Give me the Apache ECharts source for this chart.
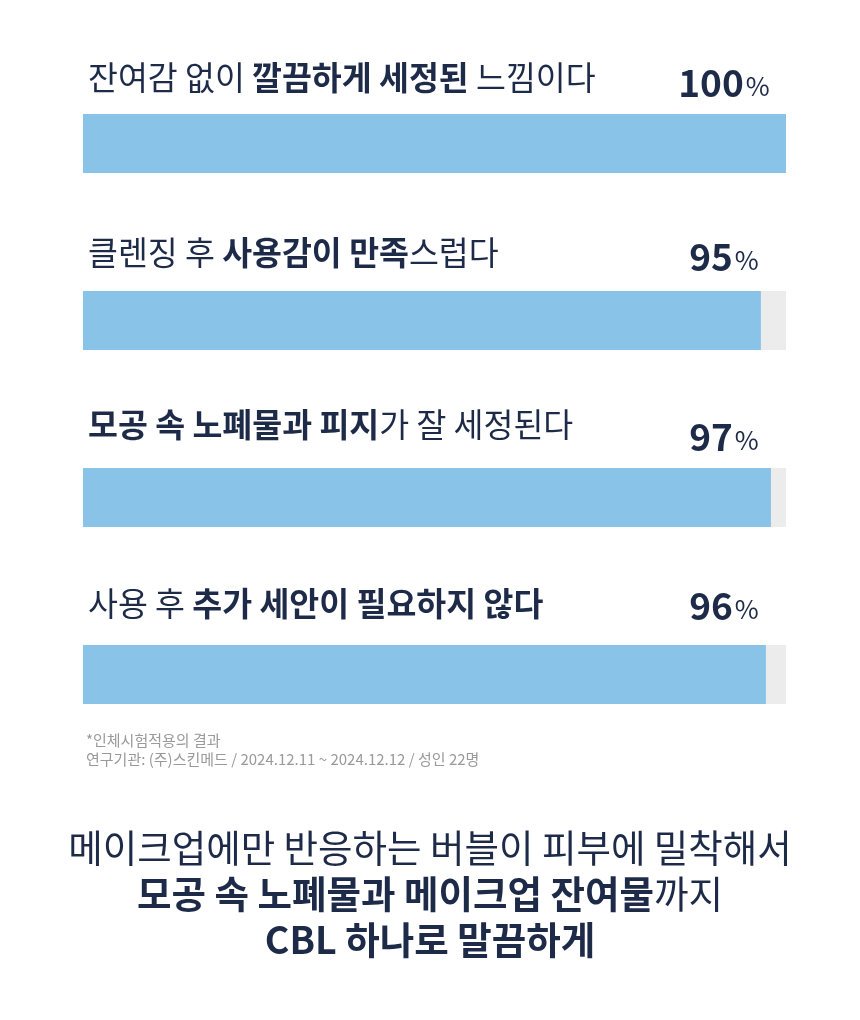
<!DOCTYPE html>
<html>
<head>
<meta charset="utf-8">
<script src="https://cdn.jsdelivr.net/npm/echarts@6/dist/echarts.min.js"></script>
<style>
  html, body { margin: 0; padding: 0; background: #fff; }
  #chart { width: 860px; height: 1020px; }
</style>
</head>
<body>
<div id="chart"></div>
<script>
  // ** 안쪽은 굵게
  var categories = [
    '잔여감 없이 **깔끔하게 세정된** 느낌이다',
    '클렌징 후 **사용감이 만족**스럽다',
    '**모공 속 노폐물과 피지**가 잘 세정된다',
    '사용 후 **추가 세안이 필요하지 않다**'
  ]
  var values = [100, 95, 97, 96]
  var fullScale = [100, 100, 100, 100]
  var noteLines = [
    '*인체시험적용의 결과',
    '연구기관: (주)스킨메드 / 2024.12.11 ~ 2024.12.12 / 성인 22명'
  ]
  var summaryLines = [
    '메이크업에만 반응하는 버블이 피부에 밀착해서',
    '**모공 속 노폐물과 메이크업 잔여물**까지',
    '**CBL 하나로 말끔하게**'
  ]

  var navy = '#1d2a48'
  var font = '"Noto Sans CJK KR", "Noto Sans", sans-serif'
  var barH = 59
  // 원본 막대는 0이 아닌 지점부터 늘어나 보이도록 축 시작을 당겨 둠
  var barAxisMin = -40
  // 라벨 세로 위치 (막대 윗변 기준)
  var textOffset = [-36, -38, -43, -41]
  var pctOffset = [-31, -34, -31, -39]

  function toRich(s) {
    return s.split('**').map(function (p, i) {
      return p ? '{' + (i % 2 ? 'b' : 'r') + '|' + p + '}' : ''
    }).join('')
  }

  var chart = echarts.init(document.getElementById('chart'))

  chart.setOption({
    backgroundColor: '#fff',
    animation: false,
    title: [{
      text: noteLines.join('\n'),
      left: 86,
      top: 731,
      padding: 0,
      textStyle: {
        fontFamily: font,
        fontSize: 15,
        fontWeight: 'normal',
        color: '#9a9a9a',
        lineHeight: 19
      }
    }, {
      text: summaryLines.map(toRich).join('\n'),
      left: 'center',
      top: 825,
      padding: 0,
      textStyle: {
        fontFamily: font,
        fontSize: 37.5,
        color: navy,
        lineHeight: 46,
        rich: {
          r: { fontFamily: font, fontSize: 37.5, fontWeight: 'normal', color: navy, lineHeight: 46 },
          b: { fontFamily: font, fontSize: 37.5, fontWeight: 'bold', color: navy, lineHeight: 46 }
        }
      }
    }],
    grid: {
      left: 83,
      right: 74,
      top: 55,
      height: 708,
      containLabel: false
    },
    xAxis: [{
      type: 'value',
      min: 0,
      max: 100,
      show: false
    }, {
      type: 'value',
      min: barAxisMin,
      max: 100,
      show: false
    }],
    yAxis: {
      type: 'category',
      data: categories,
      inverse: true,
      show: false
    },
    series: [
      {
        name: 'base',
        type: 'bar',
        data: fullScale.map(function (v, i) {
          return { value: v, label: { position: [5, textOffset[i]] } }
        }),
        barWidth: barH,
        barGap: '-100%',
        silent: true,
        z: 1,
        itemStyle: { color: '#ececec' },
        label: {
          show: true,
          verticalAlign: 'middle',
          formatter: function (p) { return toRich(categories[p.dataIndex]) },
          rich: {
            r: { fontFamily: font, fontSize: 32.5, fontWeight: 'normal', color: navy },
            b: { fontFamily: font, fontSize: 32.5, fontWeight: 'bold', color: navy }
          }
        }
      },
      {
        name: 'value',
        type: 'custom',
        xAxisIndex: 1,
        z: 3,
        encode: { x: 0, y: 1 },
        data: values.map(function (v, i) { return [v, i] }),
        renderItem: function (params, api) {
          var end = api.coord([api.value(0), api.value(1)])
          var start = api.coord([barAxisMin, api.value(1)])
          return {
            type: 'rect',
            shape: { x: start[0], y: end[1] - barH / 2, width: end[0] - start[0], height: barH },
            style: { fill: '#89c3e8' }
          }
        }
      },
      {
        name: 'pct',
        type: 'bar',
        data: fullScale.map(function (v, i) {
          return { value: v, label: { position: [641, pctOffset[i]] } }
        }),
        barWidth: barH,
        barGap: '-100%',
        silent: true,
        z: 4,
        itemStyle: { color: 'rgba(0,0,0,0)' },
        label: {
          show: true,
          align: 'center',
          verticalAlign: 'middle',
          formatter: function (p) { return '{n|' + values[p.dataIndex] + '}{p|%}' },
          rich: {
            n: { fontFamily: font, fontSize: 37, fontWeight: 'bold', color: navy },
            p: { fontFamily: font, fontSize: 26, fontWeight: 'normal', color: navy, padding: [6, 0, 0, 2] }
          }
        }
      }
    ]
  })
</script>
</body>
</html>
